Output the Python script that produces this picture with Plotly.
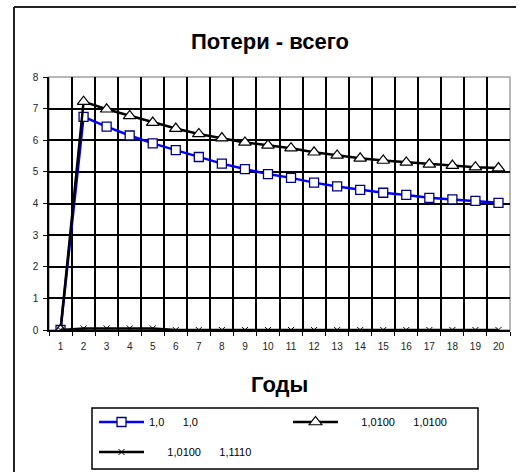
import plotly.graph_objects as go

years = list(range(1, 21))
tick_labels = [str(y) for y in years]
s1_name = "1,0\u00a0\u00a0\u00a0\u00a0\u00a0\u00a01,0"
s2_name = "\u00a0\u00a0\u00a0\u00a0\u00a0\u00a01,0100\u00a0\u00a0\u00a0\u00a0\u00a0\u00a01,0100"
s3_name = "\u00a0\u00a0\u00a0\u00a0\u00a0\u00a01,0100\u00a0\u00a0\u00a0\u00a0\u00a0\u00a01,1110"
s1 = [0, 6.74, 6.43, 6.15, 5.9, 5.69, 5.47, 5.26, 5.09, 4.93,
      4.81, 4.66, 4.54, 4.43, 4.34, 4.27, 4.18, 4.13, 4.08, 4.02]
s2 = [0, 7.22, 6.98, 6.77, 6.56, 6.37, 6.2, 6.07, 5.93, 5.84,
      5.75, 5.62, 5.52, 5.43, 5.36, 5.3, 5.24, 5.2, 5.15, 5.12]
s3 = [0, 0.05, 0.05, 0.05, 0.05, 0.0, 0.0, 0.0, 0.0, 0.0,
      0.0, 0.0, 0.0, 0.0, 0.0, 0.0, 0.0, 0.0, 0.0, 0.0]

W, H = 519, 475
L, R, T, B = 49, 9, 77, 145
pw, ph = W - L - R, H - T - B

def px(x):
    return (x - L) / pw

def py(y):
    return (H - B - y) / ph

FONT = "Liberation Sans, Arial, sans-serif"

fig = go.Figure()
fig.add_trace(go.Scatter(
    x=years, y=s1, name=s1_name, mode="lines+markers", legend="legend",
    line=dict(color="#0000ff", width=2.5),
    marker=dict(symbol="square", size=9, color="white",
                line=dict(color="#000080", width=1.3)),
))
fig.add_trace(go.Scatter(
    x=years, y=s2, name=s2_name, mode="lines+markers", legend="legend2",
    line=dict(color="black", width=2.5),
    marker=dict(symbol="triangle-up", size=11, color="white",
                line=dict(color="black", width=1.2)),
))
fig.add_trace(go.Scatter(
    x=years, y=s3, name=s3_name, mode="lines+markers", legend="legend3",
    line=dict(color="black", width=2.5),
    marker=dict(symbol="x-thin", size=6, color="black",
                line=dict(color="black", width=1)),
))

leg_common = dict(bgcolor="rgba(0,0,0,0)", borderwidth=0,
                  font=dict(family=FONT, size=11, color="black"),
                  xanchor="left", yanchor="middle", itemwidth=45)
fig.update_layout(
    width=W, height=H,
    margin=dict(l=L, r=R, t=T, b=B),
    paper_bgcolor="white", plot_bgcolor="white",
    title=dict(text="<b>Потери - всего</b>", x=270 / W, xref="container",
               y=1 - 41 / H, yref="container", yanchor="middle", xanchor="center",
               font=dict(family=FONT, size=22, color="black")),
    xaxis=dict(range=[0.5, 20.5], tickvals=years, ticktext=tick_labels,
               showgrid=False, zeroline=False, showline=True, linecolor="black",
               linewidth=1.5, ticks="", tickfont=dict(family=FONT, size=10, color="#222"),
               ticklabelstandoff=6,
               minor=dict(tick0=0.5, dtick=1, showgrid=True, gridcolor="black",
                          gridwidth=1.5, ticks="outside", ticklen=4, tickcolor="black")),
    yaxis=dict(range=[0, 8], dtick=1, showgrid=True, gridcolor="black", gridwidth=1.5,
               zeroline=False, showline=True, linecolor="black", linewidth=1.5,
               ticks="outside", ticklen=4, tickcolor="black", ticklabelstandoff=3,
               tickfont=dict(family=FONT, size=10, color="#222")),
    legend=dict(x=px(94), y=py(422), **leg_common),
    legend2=dict(x=px(288), y=py(422), **leg_common),
    legend3=dict(x=px(94), y=py(452), **leg_common),
    showlegend=True,
)
fig.add_annotation(text="<b>Годы</b>", x=0.5, y=py(384), xref="paper", yref="paper",
                   showarrow=False, yanchor="middle",
                   font=dict(family=FONT, size=22, color="black"))
# plot area top/right border (gray)
fig.add_shape(type="rect", xref="paper", yref="paper", x0=0, x1=1, y0=0, y1=1,
              line=dict(color="#a0a0a0", width=1.5), layer="below")
# legend box
fig.add_shape(type="rect", xref="paper", yref="paper", x0=px(92), x1=px(478),
              y0=py(469), y1=py(408), line=dict(color="black", width=1.5))
# outer chart border: top and left edges
fig.add_shape(type="line", xref="paper", yref="paper", x0=px(14), x1=px(516),
              y0=py(7), y1=py(7), line=dict(color="#222222", width=2))
fig.add_shape(type="line", xref="paper", yref="paper", x0=px(14), x1=px(14),
              y0=py(7), y1=py(472), line=dict(color="#222222", width=2))
fig.write_html("out.html")
